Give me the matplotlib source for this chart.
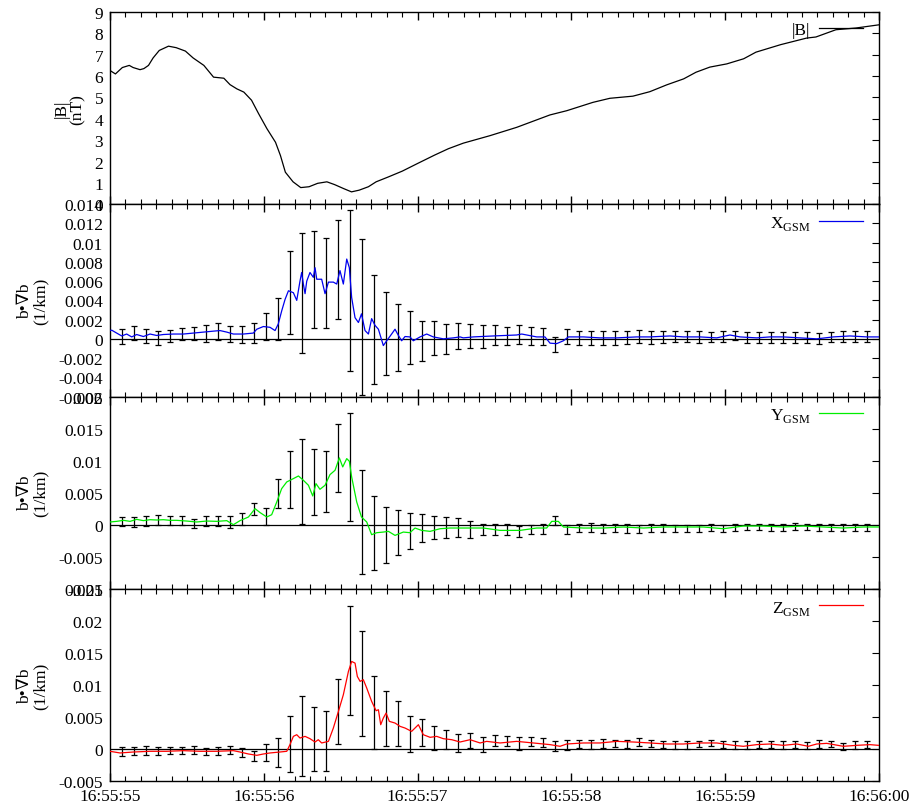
import numpy as np
import matplotlib
matplotlib.use('Agg')
import matplotlib.pyplot as plt
from matplotlib.ticker import MultipleLocator, FuncFormatter

plt.rcParams['font.family'] = ['Liberation Serif', 'DejaVu Serif']
plt.rcParams['mathtext.fontset'] = 'custom'
plt.rcParams['mathtext.rm'] = 'Liberation Serif'
plt.rcParams['font.size'] = 12.5
plt.rcParams['axes.linewidth'] = 1.0

# seconds after 16:55:55
B_t = [0.0, 0.035, 0.08, 0.125, 0.15, 0.195, 0.22, 0.25, 0.28, 0.32,
       0.38, 0.43, 0.49, 0.54, 0.61, 0.673, 0.74, 0.78, 0.825, 0.87,
       0.92, 0.966, 1.02, 1.076, 1.108, 1.14, 1.19, 1.24, 1.294, 1.35,
       1.41, 1.46, 1.52, 1.57, 1.62, 1.68, 1.73, 1.81, 1.9, 2.0,
       2.11, 2.2, 2.297, 2.47, 2.644, 2.86, 2.97, 3.14, 3.25, 3.40,
       3.51, 3.62, 3.73, 3.81, 3.90, 4.01, 4.12, 4.20, 4.36, 4.53,
       4.59, 4.72, 4.85, 5.0]
B_v = [6.26, 6.1, 6.4, 6.5, 6.4, 6.3, 6.35, 6.5, 6.85, 7.2,
       7.4, 7.33, 7.17, 6.85, 6.5, 5.95, 5.9, 5.6, 5.4, 5.25,
       4.87, 4.24, 3.54, 2.9, 2.28, 1.5, 1.05, 0.78, 0.82, 0.98,
       1.05, 0.92, 0.73, 0.58, 0.66, 0.82, 1.05, 1.28, 1.55, 1.91,
       2.3, 2.6, 2.86, 3.21, 3.6, 4.18, 4.38, 4.77, 4.96, 5.06,
       5.27, 5.59, 5.87, 6.18, 6.42, 6.57, 6.81, 7.12, 7.47, 7.78,
       7.83, 8.17, 8.25, 8.4]

X_t = [0.0, 0.011, 0.043, 0.076, 0.108, 0.141, 0.173, 0.217, 0.26, 0.303,
       0.347, 0.412, 0.477, 0.542, 0.607, 0.672, 0.715, 0.759, 0.802, 0.867,
       0.932, 0.954, 0.997, 1.04, 1.073, 1.094, 1.116, 1.138, 1.16, 1.192,
       1.214, 1.235, 1.246, 1.257, 1.268, 1.279, 1.3, 1.322, 1.333, 1.344,
       1.376, 1.398, 1.42, 1.452, 1.474, 1.495, 1.517, 1.539, 1.556, 1.571,
       1.593, 1.615, 1.635, 1.658, 1.68, 1.701, 1.723, 1.745, 1.777, 1.799,
       1.831, 1.853, 1.875, 1.896, 1.918, 1.95, 1.972, 2.016, 2.059, 2.102,
       2.167, 2.232, 2.276,
       2.297, 2.362, 2.492, 2.644, 2.677, 2.774, 2.828, 2.861, 2.904, 2.948,
       2.98, 3.078, 3.186, 3.294, 3.424, 3.511, 3.641, 3.728, 3.836, 3.945,
       4.031, 4.096, 4.205, 4.291, 4.378, 4.486, 4.595, 4.703, 4.811, 4.92,
       4.996]
X_v = [0.00086, 0.0009, 0.0006, 0.0003, 0.0005, 0.0002, 0.00045, 0.00024, 0.0005, 0.00035,
       0.00045, 0.0005, 0.0005, 0.0006, 0.0007, 0.0008, 0.00086, 0.0007, 0.0005, 0.0005,
       0.0006, 0.001, 0.00128, 0.0012, 0.00086, 0.00155, 0.0029, 0.0041, 0.005, 0.0048,
       0.004, 0.006, 0.0069, 0.0057, 0.0047, 0.006, 0.0069, 0.0064, 0.0074, 0.0062,
       0.0062, 0.0047, 0.0059, 0.0059, 0.0057, 0.0071, 0.0057, 0.0083, 0.0074, 0.0043,
       0.0022, 0.0017, 0.0026, 0.00086, 0.0005, 0.0021, 0.0014, 0.001, -0.0007, -0.0002,
       0.0005, 0.001, 0.00035, -0.0002, 0.00024, 0.0002, -0.0002, 0.0002, 0.0005, 0.0002,
       0.0, 0.0001, 0.0002,
       0.0001, 0.0002, 0.0003, 0.0004, 0.0005, 0.0002, 0.0002, -0.00045, -0.0005, -0.0002,
       0.0002, 0.0002, 0.0001, 0.0001, 0.0002, 0.0002, 0.0003, 0.0002, 0.0002, 0.0001,
       0.0004, 0.0002, 0.0001, 0.0002, 0.0002, 0.0001, 0.0, 0.0002, 0.0003, 0.0002,
       0.0002]

Y_t = [0.0, 0.043, 0.087, 0.13, 0.173, 0.217, 0.26, 0.303, 0.347, 0.39,
       0.433, 0.498, 0.563, 0.628, 0.694, 0.759, 0.802, 0.845, 0.9, 0.943,
       0.976, 1.019, 1.051, 1.084, 1.116, 1.149, 1.192, 1.225, 1.257, 1.29,
       1.318, 1.339, 1.365, 1.398, 1.43, 1.463, 1.491, 1.513, 1.539, 1.556,
       1.571, 1.604, 1.635, 1.669, 1.701, 1.734, 1.777, 1.81, 1.853, 1.907,
       1.95, 1.983, 2.026, 2.081, 2.146, 2.211, 2.276,
       2.319, 2.427, 2.536, 2.666, 2.774, 2.839, 2.872, 2.915, 2.948, 3.078,
       3.208, 3.338, 3.468, 3.598, 3.728, 3.858, 3.988, 4.118, 4.248, 4.378,
       4.508, 4.638, 4.768, 4.898, 4.996]
Y_v = [0.00042, 0.00052, 0.00068, 0.00052, 0.00083, 0.00063, 0.00078, 0.00073, 0.00078, 0.00068,
       0.00068, 0.00057, 0.00042, 0.00057, 0.00052, 0.00063, 0.0, 0.00063, 0.0012, 0.0025,
       0.00188, 0.0012, 0.00156, 0.00354, 0.00563, 0.00667, 0.00719, 0.0076, 0.00693, 0.00615,
       0.00448, 0.00641, 0.00552, 0.00615, 0.00781, 0.00849, 0.01042, 0.00901, 0.01031, 0.0099,
       0.00745, 0.00354, 0.0012, 0.00042, -0.00156, -0.00125, -0.00115, -0.00104, -0.00167, -0.00115,
       -0.00125, -0.00052, -0.00089, -0.00104, -0.00063, -0.00052, -0.00052,
       -0.00052, -0.00052, -0.00089, -0.00089, -0.00052, -0.00052, 0.00052, 0.00052, -0.00036, -0.00052,
       -0.00052, -0.00036, -0.00052, -0.00036, -0.00036, -0.00036, -0.00063, -0.00021, -0.00021, -0.00036,
       -0.00021, -0.00036, -0.00052, -0.00036, -0.00036]

Z_t = [0.0, 0.065, 0.152, 0.26, 0.368, 0.477, 0.585, 0.694, 0.802, 0.845,
       0.9, 0.954, 0.997, 1.04, 1.105, 1.149, 1.17, 1.192, 1.214, 1.235,
       1.268, 1.3, 1.333, 1.354, 1.376, 1.42, 1.452, 1.485, 1.517, 1.55,
       1.571, 1.593, 1.608, 1.626, 1.647, 1.669, 1.701, 1.73, 1.745, 1.76,
       1.777, 1.795, 1.816, 1.853, 1.886, 1.918, 1.961, 2.005, 2.037, 2.081,
       2.124, 2.167, 2.222, 2.276,
       2.341, 2.406, 2.449, 2.536, 2.644, 2.752, 2.861, 2.926, 2.969, 3.078,
       3.186, 3.294, 3.403, 3.511, 3.619, 3.728, 3.836, 3.945, 4.053, 4.118,
       4.205, 4.291, 4.378, 4.465, 4.541, 4.595, 4.66, 4.768, 4.855, 4.941,
       4.996]
Z_v = [-0.00036, -0.00062, -0.00047, -0.00036, -0.00036, -0.00026, -0.00036, -0.00036, -0.00026, -0.00047,
       -0.00078, -0.00099, -0.00078, -0.00062, -0.00047, -0.00036, 0.00068, 0.00197, 0.00223, 0.00171,
       0.00197, 0.00161, 0.00109, 0.00145, 0.00094, 0.00119, 0.00327, 0.00587, 0.00847, 0.0121,
       0.01366, 0.0134, 0.01132, 0.01055, 0.01081, 0.00951, 0.00743, 0.00597, 0.00613, 0.00379,
       0.00483, 0.00561, 0.00431, 0.00405, 0.00353, 0.00327, 0.00275, 0.00379, 0.00223, 0.00182,
       0.00197, 0.00161, 0.00145, 0.00109,
       0.00145, 0.00094, 0.00119, 0.00094, 0.00119, 0.00094, 0.00068, 0.00042, 0.00078, 0.00094,
       0.00094, 0.00119, 0.00109, 0.00094, 0.00078, 0.00078, 0.00094, 0.00094, 0.00057, 0.00042,
       0.00068, 0.00078, 0.00057, 0.00078, 0.00042, 0.00078, 0.00088, 0.00042, 0.00057, 0.00068,
       0.00057]

# error bars every 10 samples at 128 Hz
err_t = np.arange(1, 64) / 12.8

X_hi = [0.00104, 0.00138, 0.00104, 0.00086, 0.00097, 0.00111, 0.00121, 0.00145, 0.00162, 0.00138,
        0.00131, 0.00162, 0.00266, 0.00425, 0.00916, 0.01096, 0.01123, 0.01054, 0.01234, 0.01338,
        0.01037, 0.00667, 0.00491, 0.00363, 0.00287, 0.0019, 0.00183, 0.00156, 0.00162, 0.00156,
        0.00145, 0.00145, 0.00128, 0.00149, 0.00121, 0.00111, 0.00017, 0.00104, 0.00086, 0.00086,
        0.00086, 0.00086, 0.00086, 0.00097, 0.00086, 0.00086, 0.00086, 0.00086, 0.0008, 0.00069,
        0.0008, 0.00086, 0.00069, 0.00069, 0.00076, 0.00069, 0.00069, 0.00069, 0.00059, 0.00069,
        0.0008, 0.0008, 0.0008]
X_lo = [-0.00052, -0.00017, -0.00041, -0.00059, -0.00028, -0.00017, -0.00017, -0.00035, -0.00007, -0.00035,
        -0.00045, -0.00041, -0.0001, -0.00017, 0.00052, -0.00145, 0.00111, 0.00111, 0.00207, -0.00335,
        -0.00581, -0.00467, -0.0038, -0.00339, -0.00266, -0.00232, -0.00173, -0.00156, -0.00104, -0.00093,
        -0.00093, -0.00069, -0.00069, -0.00052, -0.00059, -0.00069, -0.00138, -0.00052, -0.00059, -0.00059,
        -0.00059, -0.00059, -0.00052, -0.00041, -0.00052, -0.00041, -0.00035, -0.00035, -0.00041, -0.00035,
        -0.00035, -0.00017, -0.00041, -0.00041, -0.00041, -0.00041, -0.00041, -0.00041, -0.00052, -0.00035,
        -0.00035, -0.00035, -0.00035]

Y_hi = [0.0012, 0.0012, 0.0013, 0.00146, 0.0013, 0.00135, 0.00094, 0.0013, 0.0013, 0.0013,
        0.00182, 0.00344, 0.0026, 0.00708, 0.01156, 0.01333, 0.01177, 0.01156, 0.01573, 0.0175,
        0.00849, 0.00443, 0.00281, 0.00229, 0.00188, 0.00161, 0.00135, 0.00115, 0.00104, 0.00052,
        0.00016, 0.00016, 0.00016, -0.00021, 0.0, 0.00016, 0.0013, -0.0001, 0.00016, 0.00031,
        0.00016, 0.00016, 0.00016, 0.0, 0.00016, 0.00016, 0.0, 0.0, -0.0001, 0.00016,
        0.0, 0.00016, 0.00016, 0.00016, 0.00016, 0.00016, 0.00031, 0.00016, 0.00016, 0.00016,
        0.00016, 0.00016, 0.00016]
Y_lo = [-0.00026, -0.00042, -0.00026, 0.0, 0.0, 0.0, -0.00052, -0.00026, -0.00026, -0.00052,
        0.0, 0.00146, -0.0001, 0.0026, 0.0026, 0.0001, 0.00146, 0.00198, 0.0051, 0.00052,
        -0.00776, -0.00703, -0.00599, -0.00479, -0.00375, -0.00271, -0.00229, -0.00203, -0.00193, -0.00208,
        -0.00156, -0.00167, -0.00156, -0.00193, -0.00141, -0.00141, -0.0001, -0.00141, -0.00115, -0.00115,
        -0.00125, -0.00115, -0.00125, -0.00125, -0.00115, -0.00115, -0.00115, -0.00115, -0.00115, -0.00104,
        -0.00115, -0.00104, -0.00089, -0.00089, -0.00104, -0.00104, -0.00089, -0.00089, -0.00104, -0.00104,
        -0.00104, -0.00104, -0.00104]

Z_hi = [0.00026, 0.00026, 0.00042, 0.00026, 0.00026, 0.00026, 0.00042, 0.00016, 0.00026, 0.00052,
        0.00016, -0.00036, 0.00083, 0.00171, 0.00509, 0.00821, 0.00655, 0.00597, 0.01091, 0.02234,
        0.01834, 0.01143, 0.00909, 0.00743, 0.0052, 0.00468, 0.00353, 0.00301, 0.00234, 0.00249,
        0.00182, 0.00223, 0.00208, 0.00182, 0.00182, 0.00171, 0.0013, 0.00145, 0.00145, 0.00145,
        0.00161, 0.00145, 0.00145, 0.00171, 0.00145, 0.0013, 0.00119, 0.00119, 0.0013, 0.00145,
        0.0013, 0.00119, 0.00119, 0.0013, 0.0013, 0.0013, 0.00119, 0.00109, 0.00145, 0.0013,
        0.00094, 0.00119, 0.00119]
Z_lo = [-0.00114, -0.00099, -0.00088, -0.00088, -0.00078, -0.00078, -0.00078, -0.00088, -0.00088, -0.00078,
        -0.0013, -0.00182, -0.00192, -0.00286, -0.00364, -0.00426, -0.00348, -0.00348, 0.00078, 0.00535,
        0.00197, 0.0, 0.00042, 0.00042, -0.00047, 0.00042, -0.0001, 0.00005, -0.00047, 0.00016,
        -0.00047, 0.00042, 0.00042, -0.0001, 0.00042, 0.00026, -0.00036, -0.0001, 0.00016, 0.00005,
        0.00016, 0.00026, 0.00016, 0.00042, 0.00026, 0.00016, 0.00005, 0.00005, 0.00026, 0.00042,
        0.00016, 0.00005, 0.00005, 0.00016, 0.00016, 0.00005, 0.00016, 0.00005, 0.00016, 0.00026,
        -0.0001, 0.00005, 0.00016]

x_ticks = [0, 1, 2, 3, 4, 5]
B_ticks = [0, 1, 2, 3, 4, 5, 6, 7, 8, 9]
X_ticks = [-0.006, -0.004, -0.002, 0, 0.002, 0.004, 0.006, 0.008, 0.01, 0.012, 0.014]
Y_ticks = [-0.01, -0.005, 0, 0.005, 0.01, 0.015, 0.02]
Z_ticks = [-0.005, 0, 0.005, 0.01, 0.015, 0.02, 0.025]


def time_label(t, pos):
    s = int(round(16 * 3600 + 55 * 60 + 55 + t))
    return '%02d:%02d:%02d' % (s // 3600, (s // 60) % 60, s % 60)


def style_axis(ax, yticks):
    ax.set_xlim(0, 5)
    ax.set_ylim(yticks[0], yticks[-1])
    ax.set_xticks(x_ticks)
    ax.xaxis.set_minor_locator(MultipleLocator(0.1))
    ax.xaxis.set_major_formatter(FuncFormatter(time_label))
    ax.set_yticks(yticks)
    ax.yaxis.set_major_formatter(FuncFormatter(lambda v, p: '%g' % round(v, 6)))
    ax.tick_params(axis='x', which='both', direction='in', top=True, bottom=True, pad=5)
    ax.tick_params(axis='x', which='major', length=6, width=1)
    ax.tick_params(axis='x', which='minor', length=3.5, width=0.8)
    ax.tick_params(axis='y', direction='in', left=False, right=True,
                   labelleft=True, length=5, width=0.8, pad=5)


def add_legend(ax):
    ax.legend(loc='upper right', bbox_to_anchor=(1, 1.035), frameon=False,
              markerfirst=False, handlelength=2.5, handletextpad=0.5,
              borderaxespad=0.55)


def bgrad_panel(ax, t, v, hi, lo, color, name, yticks):
    ax.axhline(0, color='black', lw=0.9, zorder=1)
    hi = np.array(hi)
    lo = np.array(lo)
    ax.errorbar(err_t, (hi + lo) / 2, yerr=(hi - lo) / 2, fmt='none',
                ecolor='black', elinewidth=0.9, capsize=2.3, capthick=0.9, zorder=2)
    ax.plot(t, v, color=color, lw=0.9, label=name, zorder=3)
    style_axis(ax, yticks)
    ax.set_ylabel('b\u2022\u2207b\n(1/km)', labelpad=7, linespacing=1.0)
    add_legend(ax)


fig, axes = plt.subplots(4, 1, sharex=True, figsize=(9.14, 8.12), dpi=100)
fig.subplots_adjust(left=0.1204, right=0.9617, top=0.984, bottom=0.0369, hspace=0)

ax = axes[0]
ax.plot(B_t, B_v, color='black', lw=0.9, label='|B|')
style_axis(ax, B_ticks)
ax.set_ylabel('|B|\n(nT)', labelpad=6, linespacing=1.0)
add_legend(ax)

bgrad_panel(axes[1], X_t, X_v, X_hi, X_lo, '#0000ee', 'X$_{\\mathrm{GSM}}$', X_ticks)
bgrad_panel(axes[2], Y_t, Y_v, Y_hi, Y_lo, '#00ee00', 'Y$_{\\mathrm{GSM}}$', Y_ticks)
bgrad_panel(axes[3], Z_t, Z_v, Z_hi, Z_lo, '#ff0000', 'Z$_{\\mathrm{GSM}}$', Z_ticks)

for a in axes[:-1]:
    a.tick_params(axis='x', labelbottom=False)

fig.savefig('out.png', dpi=100)
